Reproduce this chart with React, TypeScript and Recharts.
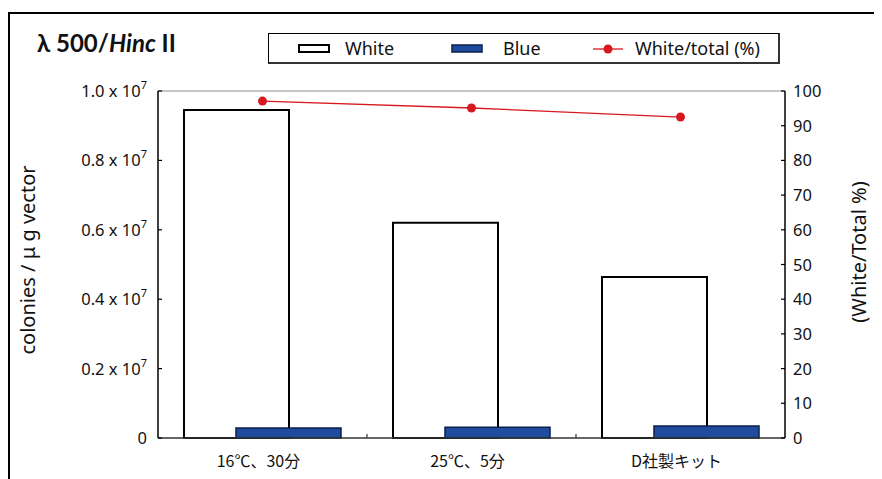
import React from 'react';
import {
  ComposedChart,
  Bar,
  Line,
  XAxis,
  YAxis,
  Legend,
  ReferenceLine,
  Customized,
} from 'recharts';

const categories = ['16℃、30分', '25℃、5分', 'D社製キット'];
const whiteValues = [9450000, 6200000, 4640000];
const blueValues = [290000, 310000, 345000];
const ratioValues = [97.1, 95.1, 92.5];
const leftTicks = [0, 2000000, 4000000, 6000000, 8000000, 10000000];
const rightTicks = [0, 10, 20, 30, 40, 50, 60, 70, 80, 90, 100];

const data = categories.map((c, i) => ({
  name: c,
  white: whiteValues[i],
  blue: blueValues[i],
  ratio: ratioValues[i],
}));

const FONT = "'Noto Sans', 'Noto Sans CJK JP', sans-serif";
const CJK = "'Noto Sans CJK JP', 'Noto Sans', sans-serif";
const BLUE = '#1f4c9e';
const RED = '#d7191f';

const LeftTick = (props: any) => {
  const { x, y, payload } = props;
  const v = payload.value as number;
  return (
    <g>
      <line x1={x + 11} x2={x + 15} y1={y} y2={y} stroke="#000" strokeWidth={1.2} />
      {v === 0 ? (
        <text x={x} y={y} dy={6} textAnchor="end" fontSize={16.5} fontFamily={FONT} fill="#111">
          0
        </text>
      ) : (
        <text x={x} y={y} dy={6} textAnchor="end" fontSize={16.5} fontFamily={FONT} fill="#111">
          {(v / 10000000).toFixed(1) + ' x 10'}
          <tspan dy={-8} fontSize={11}>7</tspan>
        </text>
      )}
    </g>
  );
};

const RightTick = (props: any) => {
  const { x, y, payload } = props;
  return (
    <g>
      <line x1={x - 8} x2={x - 12} y1={y} y2={y} stroke="#000" strokeWidth={1.2} />
      <text x={x} y={y} dy={6} textAnchor="start" fontSize={16.5} fontFamily={FONT} fill="#111">
        {payload.value}
      </text>
    </g>
  );
};

const XTick = (props: any) => {
  const { x, y, payload, index } = props;
  const band = 627 / categories.length;
  return (
    <g>
      {index < categories.length - 1 && (
        <line x1={x + band / 2} x2={x + band / 2} y1={y} y2={y - 4} stroke="#333" strokeWidth={1.2} />
      )}
      <text x={x - 4} y={y} dy={29} textAnchor="middle" fontSize={16} fontFamily={CJK} fill="#111">
        {payload.value}
      </text>
    </g>
  );
};

const LegendContent = () => (
  <div
    style={{
      boxSizing: 'border-box',
      width: 512,
      height: 31,
      border: '1px solid #000',
      borderRight: '2px solid #333',
      borderBottom: '2px solid #333',
      position: 'relative',
      fontFamily: FONT,
      color: '#111',
      background: '#fff',
    }}
  >
    <svg width={512} height={31} style={{ position: 'absolute', left: 0, top: 0 }}>
      <rect x={30} y={11} width={30} height={7} fill="#fff" stroke="#000" strokeWidth={2} />
      <text x={76} y={21} fontSize={18} fontFamily={FONT} fill="#111">White</text>
      <rect x={183} y={11} width={30} height={7} fill={BLUE} stroke="#0a1f4a" strokeWidth={1.5} />
      <text x={234} y={21} fontSize={18} fontFamily={FONT} fill="#111">Blue</text>
      <line x1={324} x2={354} y1={15} y2={15} stroke={RED} strokeWidth={1.3} />
      <circle cx={339} cy={15} r={4.5} fill={RED} />
      <text x={366} y={21} fontSize={18} fontFamily={FONT} fill="#111">White/total (%)</text>
    </svg>
  </div>
);

const Decorations = () => (
  <g>
    <text x={29} y={44} fontSize={24} fontWeight="bold" fontFamily="Lato, 'Open Sans', sans-serif" fill="#111">
      λ 500/<tspan fontStyle="italic">Hinc</tspan> II
    </text>
    <text
      x={19}
      y={252}
      transform="rotate(-90, 19, 252)"
      textAnchor="middle"
      dominantBaseline="central"
      fontSize={20}
      fontFamily={FONT}
      fill="#111"
    >
      colonies / μ g vector
    </text>
    <text
      x={850}
      y={244}
      transform="rotate(-90, 850, 244)"
      textAnchor="middle"
      dominantBaseline="central"
      fontSize={20}
      fontFamily={FONT}
      fill="#111"
    >
      (White/Total %)
    </text>
  </g>
);

export default function App() {
  return (
    <div style={{ position: 'relative', width: 874, height: 471, fontFamily: FONT }}>
      <div
        style={{
          position: 'absolute',
          left: 0,
          top: 4,
          width: 874,
          height: 467,
          borderTop: '2px solid #000',
          borderLeft: '2px solid #000',
          boxSizing: 'border-box',
        }}
      />
      <ComposedChart
        width={874}
        height={471}
        data={data}
        margin={{ top: 83, right: 0, bottom: 0, left: 0 }}
        barGap={-53}
        style={{ position: 'absolute', left: 0, top: 0 }}
      >
        <XAxis
          dataKey="name"
          xAxisId="x"
          height={41}
          tickLine={false}
          axisLine={{ stroke: '#333', strokeWidth: 1.5 }}
          tick={<XTick />}
          tickMargin={0}
          tickSize={0}
          interval={0}
        />
        <YAxis
          yAxisId="left"
          orientation="left"
          width={150}
          domain={[0, 10000000]}
          ticks={leftTicks}
          tickLine={false}
          tickSize={0}
          tickMargin={11}
          axisLine={{ stroke: '#000', strokeWidth: 1.5 }}
          tick={<LeftTick />}
          interval={0}
        />
        <YAxis
          yAxisId="right"
          orientation="right"
          width={97}
          domain={[0, 100]}
          ticks={rightTicks}
          tickLine={false}
          tickSize={0}
          tickMargin={8}
          axisLine={{ stroke: '#000', strokeWidth: 1.5 }}
          tick={<RightTick />}
          interval={0}
        />
        <ReferenceLine yAxisId="left" xAxisId="x" y={10000000} stroke="#c6c6c6" strokeWidth={2} />
        <Legend
          layout="horizontal"
          verticalAlign="middle"
          align="center"
          content={<LegendContent />}
          wrapperStyle={{ position: 'absolute', left: 260, top: 25, width: 512, height: 31 }}
        />
        <Bar
          dataKey="white"
          name="White"
          xAxisId="x"
          yAxisId="left"
          barSize={105}
          fill="#fff"
          stroke="#000"
          strokeWidth={2}
          isAnimationActive={false}
        />
        <Bar
          dataKey="blue"
          name="Blue"
          xAxisId="x"
          yAxisId="left"
          barSize={105}
          fill={BLUE}
          stroke="#0a1f4a"
          strokeWidth={1.5}
          isAnimationActive={false}
        />
        <Line
          dataKey="ratio"
          name="White/total (%)"
          xAxisId="x"
          yAxisId="right"
          stroke={RED}
          strokeWidth={1.3}
          dot={{ r: 4.5, fill: RED, stroke: RED, strokeWidth: 0 }}
          isAnimationActive={false}
        />
        <Customized component={Decorations} />
      </ComposedChart>
    </div>
  );
}
